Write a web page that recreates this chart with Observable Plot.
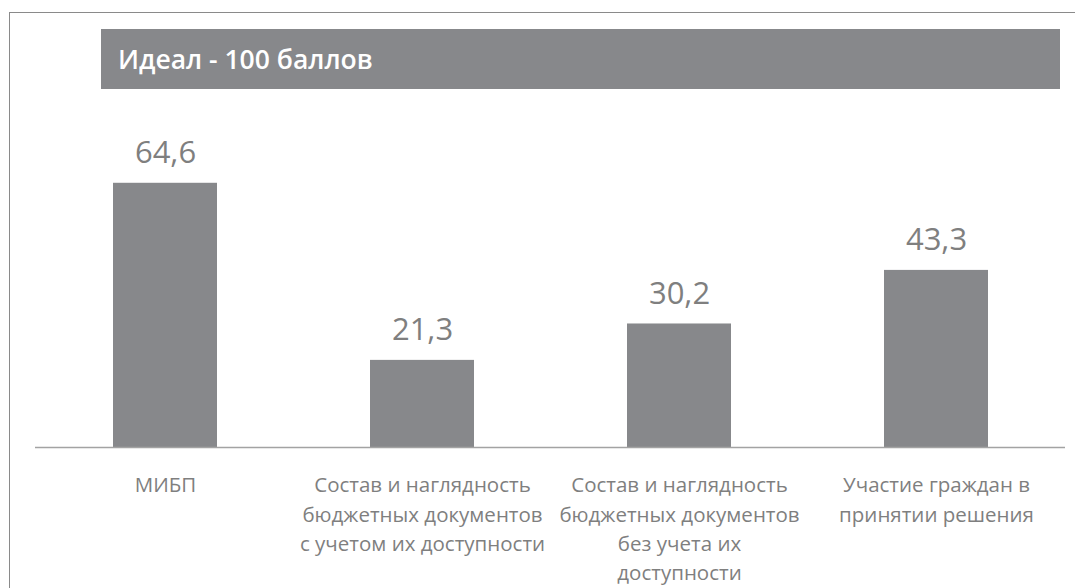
<!DOCTYPE html>
<html>
<head>
<meta charset="utf-8">
<script src="https://cdn.jsdelivr.net/npm/d3@7"></script>
<script src="https://cdn.jsdelivr.net/npm/@observablehq/plot@0.6"></script>
<style>
  html, body { margin: 0; padding: 0; background: #fff; }
  #wrap { position: relative; width: 1075px; height: 588px; overflow: hidden; font-family: "Open Sans", sans-serif; }
  #frame { position: absolute; left: 9px; top: 12px; right: -5px; bottom: -5px; border-left: 1.5px solid #8a8a8a; border-top: 1.5px solid #8a8a8a; }
  #banner { position: absolute; left: 101px; top: 29px; width: 959px; height: 60px; background: #87888b; color: #fff;
            font-weight: 600; font-size: 26.5px; line-height: 60px; padding-left: 17px; box-sizing: border-box; }
  #chart { position: absolute; left: 0; top: 0; }
</style>
</head>
<body>
<div id="wrap">
  <div id="frame"></div>
  <div id="chart"></div>
  <div id="banner"></div>
</div>
<script>
const titleText = "Идеал - 100 баллов";
const categories = [
  "МИБП",
  "Состав и наглядность\nбюджетных документов\nс учетом их доступности",
  "Состав и наглядность\nбюджетных документов\nбез учета их\nдоступности",
  "Участие граждан в\nпринятии решения"
];
const values = [64.6, 21.3, 30.2, 43.3];

document.getElementById("banner").textContent = titleText;

const data = categories.map((c, i) => ({category: c, value: values[i]}));
const fmt = v => v.toFixed(1).replace(".", ",");

const chart = Plot.plot({
  width: 1075,
  height: 588,
  marginTop: 38,
  marginBottom: 141,
  marginLeft: 35,
  marginRight: 10,
  style: {fontFamily: "'Open Sans', sans-serif", background: "transparent"},
  x: {domain: categories, paddingInner: 0.596, paddingOuter: 0.298, axis: null},
  y: {domain: [0, 100], axis: null},
  marks: [
    Plot.barY(data, {x: "category", y: "value", fill: "#87888b"}),
    Plot.ruleY([0], {stroke: "#a3a3a3", strokeWidth: 1.5}),
    Plot.text(data, {x: "category", y: "value", text: d => fmt(d.value), lineAnchor: "bottom", dy: -20,
                     fontSize: 31, fill: "#7f7f7f"}),
    Plot.text(data, {x: "category", y: () => 0, text: "category", lineAnchor: "top", dy: 24,
                     fontSize: 20.5, lineHeight: 1.43, fill: "#7f7f7f"})
  ]
});
document.getElementById("chart").appendChild(chart);
</script>
</body>
</html>
